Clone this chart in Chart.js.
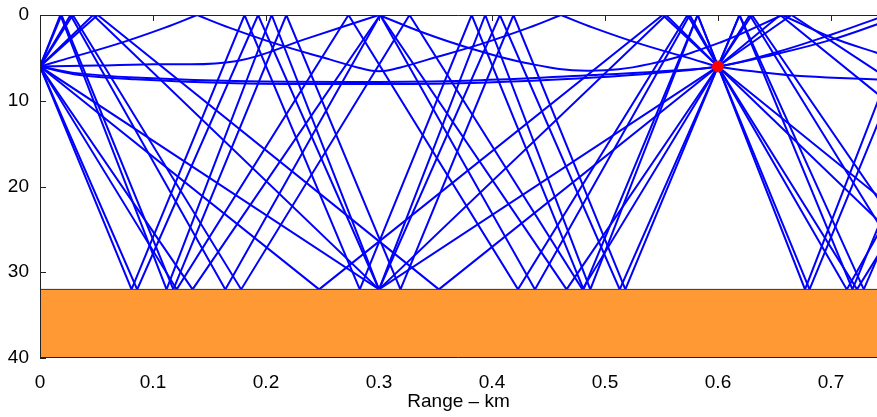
<!DOCTYPE html>
<html>
<head>
<meta charset="utf-8">
<script src="https://cdn.jsdelivr.net/npm/chart.js@4.4.1/dist/chart.umd.min.js"></script>
<style>
  html, body { margin: 0; padding: 0; background: #ffffff; }
  #wrap { width: 877px; height: 417px; position: relative; }
</style>
</head>
<body>
<div id="wrap"><canvas id="rayChart" width="877" height="417"></canvas></div>
<script>
// Source at range 0, receiver at 0.6 km, both 6 m deep; bottom at 32 m
const sourcePoint = [0, 6];
const receiverPoint = [0.6, 6];
const bottomDepth = 32;
const maxDepth = 40;
const maxRange = 0.7407;

// Straight eigenrays: [range km, depth m] at start, every bounce and end
const straightRays = [
  [[0, 6], [0.300, 32], [0.6, 6], [0.665, 0], [1.034, 32]],
  [[0, 6], [0.051, 0], [0.353, 32], [0.6, 6], [0.655, 0], [0.955, 32]],
  [[0, 6], [0.247, 32], [0.551, 0], [0.6, 6], [0.844, 32]],
  [[0, 6], [0.047, 0], [0.300, 32], [0.554, 0], [0.6, 6], [0.805, 32]],
  [[0, 6], [0.135, 32], [0.301, 0], [0.466, 32], [0.6, 6], [0.630, 0], [0.797, 32]],
  [[0, 6], [0.121, 32], [0.273, 0], [0.423, 32], [0.573, 0], [0.6, 6], [0.723, 32], [0.873, 0]],
  [[0, 6], [0.029, 0], [0.178, 32], [0.327, 0], [0.480, 32], [0.6, 6], [0.628, 0], [0.778, 32]],
  [[0, 6], [0.027, 0], [0.164, 32], [0.301, 0], [0.438, 32], [0.575, 0], [0.6, 6], [0.714, 32], [0.851, 0]],
  [[0, 6], [0.086, 32], [0.193, 0], [0.300, 32], [0.407, 0], [0.513, 32], [0.6, 6], [0.619, 0], [0.729, 32], [0.834, 0]],
  [[0, 6], [0.081, 32], [0.181, 0], [0.283, 32], [0.382, 0], [0.481, 32], [0.582, 0], [0.6, 6], [0.681, 32], [0.781, 0]],
  [[0, 6], [0.019, 0], [0.118, 32], [0.218, 0], [0.319, 32], [0.419, 0], [0.518, 32], [0.6, 6], [0.619, 0], [0.719, 32], [0.819, 0]],
  [[0, 6], [0.018, 0], [0.112, 32], [0.205, 0], [0.300, 32], [0.394, 0], [0.487, 32], [0.582, 0], [0.6, 6], [0.677, 32], [0.771, 0]]
];

// Refracted rays, split at each surface bounce so the corners stay sharp
const curvedRays = [
  // near-horizontal direct rays
  [[[0, 6], [0.03, 6.75], [0.084, 7.3], [0.173, 7.7], [0.3, 7.8], [0.39, 7.6], [0.49, 7.0], [0.55, 6.55], [0.6, 6], [0.65, 4.4], [0.7, 2.3], [0.745, 0.2]]],
  [[[0, 6], [0.03, 6.9], [0.084, 7.5], [0.173, 7.95], [0.3, 8.05], [0.39, 7.9], [0.49, 7.3], [0.55, 6.7], [0.6, 6], [0.65, 4.6], [0.7, 2.9], [0.745, 0.9]]],
  // shallow ray turning below the receiver depth
  [[[0, 6], [0.05, 5.9], [0.1, 5.75], [0.173, 5.4], [0.236, 2.75], [0.3, 0]],
   [[0.3, 0], [0.34, 2.1], [0.381, 3.9], [0.43, 5.6], [0.484, 6.5], [0.54, 5.7], [0.602, 3.2], [0.657, 0]],
   [[0.657, 0], [0.70, 2.6], [0.745, 4.6]]],
  // ducted ray, two surface bounces
  [[[0, 6], [0.021, 5.2], [0.068, 3.4], [0.11, 1.5], [0.139, 0]],
   [[0.139, 0], [0.168, 1.5], [0.21, 3.4], [0.257, 5.2], [0.285, 6.25], [0.3, 6.55], [0.315, 6.25], [0.343, 5.2], [0.39, 3.4], [0.432, 1.5], [0.461, 0]],
   [[0.461, 0], [0.49, 1.5], [0.532, 3.4], [0.579, 5.2], [0.6, 6], [0.64, 6.7], [0.677, 7.15], [0.745, 7.55]]]
];

const rayBlue = "#0000ff";
const toXY = (p) => ({ x: p[0], y: p[1] });

const datasets = [];

// Receiver marker
datasets.push({
  data: [toXY(receiverPoint)],
  showLine: false,
  pointRadius: 5.5,
  pointBackgroundColor: "#ff0000",
  pointBorderColor: "#ff0000",
  order: 0
});

// Sediment layer below the water
datasets.push({
  data: [{ x: 0, y: bottomDepth }, { x: 0.8, y: bottomDepth }],
  showLine: true,
  borderColor: "#333333",
  borderWidth: 1,
  backgroundColor: "#ff9933",
  fill: { value: maxDepth },
  pointRadius: 0,
  order: 1
});

straightRays.forEach((ray) => {
  datasets.push({
    data: ray.map(toXY),
    showLine: true,
    borderColor: rayBlue,
    borderWidth: 2,
    pointRadius: 0,
    tension: 0,
    order: 2
  });
});

curvedRays.forEach((ray) => {
  ray.forEach((segment) => {
    datasets.push({
      data: segment.map(toXY),
      showLine: true,
      borderColor: rayBlue,
      borderWidth: 2,
      pointRadius: 0,
      tension: 0.4,
      order: 2
    });
  });
});

// Box around the plot with inward ticks
const boxTicks = {
  id: "boxTicks",
  afterDraw(chart) {
    const { ctx, chartArea: a, scales } = chart;
    ctx.save();
    ctx.strokeStyle = "#222222";
    ctx.lineWidth = 1;
    ctx.beginPath();
    ctx.moveTo(a.left + 0.5, a.bottom);
    ctx.lineTo(a.left + 0.5, a.top + 0.5);
    ctx.lineTo(a.right, a.top + 0.5);
    ctx.moveTo(a.left, a.bottom - 0.5);
    ctx.lineTo(a.right, a.bottom - 0.5);
    scales.x.ticks.forEach((t) => {
      const px = Math.round(scales.x.getPixelForValue(t.value)) + 0.5;
      ctx.moveTo(px, a.top);
      ctx.lineTo(px, a.top + 6);
    });
    scales.y.ticks.forEach((t) => {
      const py = Math.round(scales.y.getPixelForValue(t.value)) + 0.5;
      ctx.moveTo(a.left, py);
      ctx.lineTo(a.left + 6, py);
    });
    ctx.stroke();
    ctx.restore();
  }
};

new Chart(document.getElementById("rayChart"), {
  type: "scatter",
  data: { datasets: datasets },
  options: {
    responsive: false,
    animation: false,
    devicePixelRatio: 1,
    layout: { autoPadding: false, padding: { top: 15, right: 0, left: 0, bottom: 0 } },
    plugins: {
      legend: { display: false },
      tooltip: { enabled: false }
    },
    scales: {
      x: {
        type: "linear",
        min: 0,
        max: maxRange,
        grid: { display: false },
        border: { display: false },
        ticks: {
          stepSize: 0.1,
          includeBounds: false,
          color: "#000000",
          padding: 5,
          maxRotation: 0,
          font: { family: "Liberation Sans, Arial, sans-serif", size: 19 },
          callback: (v) => (Math.round(v * 10) / 10).toString()
        },
        title: {
          display: true,
          text: "Range \u2013 km",
          color: "#000000",
          padding: { top: 0, bottom: 4 },
          font: { family: "Liberation Sans, Arial, sans-serif", size: 19 }
        },
        afterFit: (scale) => {
          scale.height = 59;
          scale.paddingRight = 0;
          scale.paddingLeft = 0;
        }
      },
      y: {
        type: "linear",
        reverse: true,
        min: 0,
        max: maxDepth,
        grid: { display: false },
        border: { display: false },
        ticks: {
          stepSize: 10,
          color: "#000000",
          padding: 3,
          font: { family: "Liberation Sans, Arial, sans-serif", size: 19 }
        },
        afterFit: (scale) => { scale.width = 40; }
      }
    }
  },
  plugins: [boxTicks]
});
</script>
</body>
</html>
